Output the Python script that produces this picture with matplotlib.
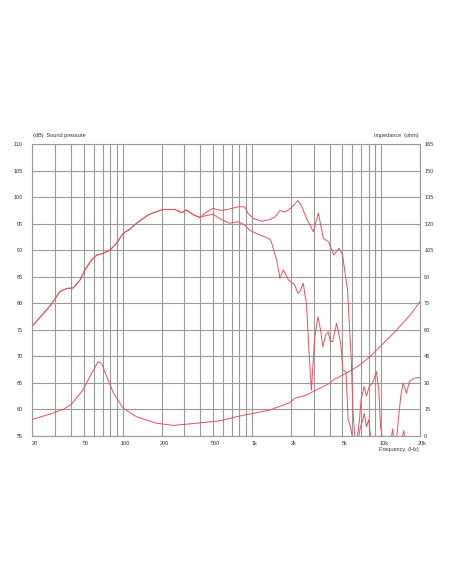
import numpy as np
import matplotlib
matplotlib.use("Agg")
import matplotlib.pyplot as plt
import matplotlib.transforms as mtransforms

plt.rcParams['font.family'] = ['Liberation Sans', 'DejaVu Sans']

# on-axis sound pressure (dB)
spl_a_freq = [20, 27.4, 32.7, 36.9, 41.5, 46.8, 51.1, 57.5, 63.2, 70.5, 79.9, 89.6,
              101, 114, 128, 158, 183, 206, 254, 286, 311, 352, 396, 433, 500, 580,
              670, 781, 880, 932, 1025, 1190, 1380, 1510, 1650, 1810, 2030, 2270,
              2410, 2650, 2990, 3270, 3570, 3920, 4300, 4730, 5030, 5500, 5880,
              6050, 6250, 6500, 6900, 7100, 7400, 7700, 8000, 8400, 9000, 11500,
              12300, 12800, 13000, 13600, 14200, 14800, 15700, 16600, 18200, 20000]
spl_a_db = [75.7, 79.5, 82.2, 82.8, 82.9, 84.4, 86.3, 88.2, 89.1, 89.4, 90.05, 91.3,
            93.2, 94.0, 95.1, 96.7, 97.3, 97.7, 97.7, 97.1, 97.6, 96.7, 96.2, 97.0, 97.9, 97.5,
            97.8, 98.2, 98.2, 97.0, 96.0, 95.5, 95.8, 96.3, 97.5, 97.2, 98.1, 99.4,
            98.5, 96.0, 93.5, 97.0, 92.3, 91.6, 89.1, 90.4, 89.1, 82.5, 69.3,
            59.9, 55.0, 53.0, 56.5, 57.4, 59.2, 56.7, 58.0, 54.0, 52.0, 52.0,
            56.3, 52.0, 53.0, 58.0, 62.5, 65.0, 63.0, 65.3, 65.9, 66.0]

# off-axis sound pressure (dB)
spl_b_freq = [20, 27.4, 32.7, 36.9, 41.5, 46.8, 51.1, 57.5, 63.2, 70.5, 79.9, 89.6,
              101, 114, 128, 158, 183, 206, 254, 286, 311, 352, 396, 433, 500, 560,
              670, 781, 880, 960, 1150, 1330, 1400, 1460, 1560, 1650, 1750, 1920,
              2140, 2270, 2350, 2500, 2590, 2650, 2750, 2890, 3050, 3240, 3400, 3540,
              3720, 3900, 4050, 4220, 4520, 4700, 4880, 5050, 5350, 5560, 5800, 6050,
              6500, 6800, 7000, 7400, 7700, 8100, 8600, 9200, 9600, 9900, 10500,
              14000, 15000, 15400, 20000]
spl_b_db = [75.7, 79.5, 82.2, 82.8, 82.9, 84.4, 86.3, 88.2, 89.1, 89.4, 90.05, 91.3,
            93.2, 94.0, 95.1, 96.7, 97.3, 97.7, 97.7, 97.1, 97.6, 96.7, 96.2, 96.5, 96.8, 96.0,
            95.1, 95.4, 94.8, 93.8, 92.9, 92.3, 91.9, 90.5, 88.0, 84.7, 86.3, 84.4,
            83.5, 81.9, 82.2, 83.8, 81.2, 80.0, 72.0, 63.6, 73.1, 77.5, 75.0, 71.8,
            74.0, 74.6, 72.8, 72.8, 76.2, 74.3, 72.4, 67.4, 67.1, 58.0, 56.7, 54.0,
            54.0, 58.0, 61.8, 64.3, 62.5, 64.3, 65.0, 67.1, 63.6, 56.7, 53.0,
            53.0, 56.0, 53.0, 53.0]

# impedance (ohm)
imp_freq = [20, 27.4, 34.8, 40.3, 49.3, 57.5, 64.6, 68.7, 75.4, 84.9, 101, 128, 183,
            246, 374, 565, 760, 960, 1380, 1750, 1960, 2140, 2650, 3350, 4000, 4250,
            5450, 5900, 7000, 8200, 9800, 13200, 16800, 20000]
imp_ohm = [9.3, 12.3, 15.0, 18.0, 25.9, 35.4, 41.9, 41.0, 33.5, 24.1, 15.6, 10.8, 7.1,
           5.9, 7.1, 8.5, 10.8, 12.3, 14.6, 17.4, 18.7, 21.2, 23.1, 26.9, 29.7, 31.6,
           35.7, 37.2, 40.6, 44.8, 50.4, 59.9, 68.4, 75.9]

grid_freqs = [20, 30, 40, 50, 60, 70, 80, 90, 100, 200, 300, 400, 500, 600, 700, 800,
              900, 1000, 2000, 3000, 4000, 5000, 6000, 7000, 8000, 9000, 10000, 20000]
freq_labels = {20: '20', 50: '50', 100: '100', 200: '200', 500: '500', 1000: '1k',
               2000: '2k', 5000: '5k', 10000: '10k', 20000: '20k'}
db_ticks = list(range(55, 111, 5))
ohm_ticks = list(range(0, 166, 15))

red = '#e8505a'
gridc = '#9a9a9a'
txt = '#333333'

fig = plt.figure(figsize=(4.52, 5.84), dpi=100)
ax = fig.add_axes([32.3 / 452, 1 - 435.8 / 584, (420 - 32.3) / 452, (435.8 - 144.3) / 584])

ax.set_xscale('log')
ax.set_xlim(20, 20000)
ax.set_ylim(55, 110)
ax.set_xticks(grid_freqs)
ax.set_xticklabels([freq_labels.get(f, '') for f in grid_freqs])
ax.minorticks_off()
ax.set_yticks(db_ticks)
ax.grid(True, color=gridc, linewidth=0.8)
ax.tick_params(length=0, labelsize=4, colors=txt, pad=4)
ax.tick_params(axis='y', pad=7)
for lbl in ax.get_xticklabels():
    lbl.set_transform(lbl.get_transform() + mtransforms.ScaledTranslation(2.5 / 100, 0, fig.dpi_scale_trans))
for s in ax.spines.values():
    s.set_color(gridc)
    s.set_linewidth(0.8)

ax.plot(spl_a_freq, spl_a_db, color=red, linewidth=0.7, clip_on=True)
ax.plot(spl_b_freq, spl_b_db, color=red, linewidth=0.7, clip_on=True)

ax2 = ax.twinx()
ax2.set_ylim(0, 165)
ax2.set_yticks(ohm_ticks)
ax2.tick_params(length=0, labelsize=4, colors=txt, pad=3)
for s in ax2.spines.values():
    s.set_visible(False)
ax2.plot(imp_freq, imp_ohm, color=red, linewidth=0.7)

fig.text(33 / 452, 1 - 136 / 584, '(dB)  Sound pressure', fontsize=4, color=txt, va='center', ha='left')
fig.text(419 / 452, 1 - 136 / 584, 'Impedance  (ohm)', fontsize=4, color=txt, va='center', ha='right')
fig.text(419 / 452, 1 - 449.3 / 584, 'Frequency  (Hz)', fontsize=4, color=txt, va='center', ha='right')

fig.savefig('out.png', dpi=100, facecolor='white')
